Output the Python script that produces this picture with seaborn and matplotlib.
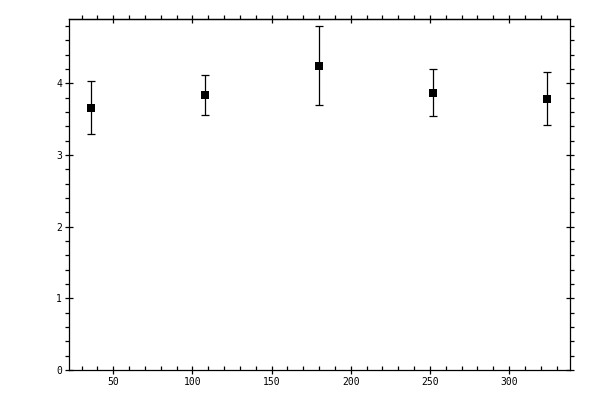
import numpy as np
import pandas as pd
import matplotlib
matplotlib.use("Agg")
import matplotlib.pyplot as plt
import seaborn as sns
from matplotlib.ticker import MultipleLocator

# values
x_pos = [36, 108, 180, 252, 324]
y_mean = [3.66, 3.845, 4.25, 3.87, 3.79]
y_err = [0.37, 0.28, 0.555, 0.33, 0.365]

df = pd.DataFrame({"x": x_pos, "y": y_mean, "err": y_err})

sns.set_style("white")
plt.rcParams['font.family'] = ['DejaVu Sans Mono']

fig = plt.figure(figsize=(6, 4), dpi=100)
ax = fig.add_axes([0.115, 0.075, 0.835, 0.8775])

# error bars then square markers
ax.errorbar(df["x"], df["y"], yerr=df["err"], fmt="none", ecolor="black",
            elinewidth=0.9, capsize=3, capthick=0.9, zorder=2)
sns.scatterplot(data=df, x="x", y="y", marker="s", s=40, color="black",
                edgecolor="black", linewidth=0, ax=ax, zorder=3)

ax.set_xlim(22, 338.5)
ax.set_ylim(0, 4.9)
ax.set_xlabel("")
ax.set_ylabel("")

for sp in ax.spines.values():
    sp.set_linewidth(0.9)
    sp.set_color("black")

ax.xaxis.set_major_locator(MultipleLocator(50))
ax.xaxis.set_minor_locator(MultipleLocator(10))
ax.yaxis.set_major_locator(MultipleLocator(1))
ax.yaxis.set_minor_locator(MultipleLocator(0.2))

# bottom axis: major ticks cross, minor ticks point in
ax.tick_params(axis="x", which="major", direction="inout", length=6, width=0.9,
               labelsize=7, pad=2, top=False, bottom=True,
               color="black", labelcolor="black")
ax.tick_params(axis="x", which="minor", direction="in", length=3, width=0.9,
               top=False, bottom=True, color="black")
# left and right: minor ticks point out
ax.tick_params(axis="y", which="major", direction="inout", length=6, width=0.9,
               labelsize=7, pad=2, left=True, right=True,
               color="black", labelcolor="black")
ax.tick_params(axis="y", which="minor", direction="out", length=3, width=0.9,
               left=True, right=True, color="black")

# top axis ticks point out
top = ax.secondary_xaxis("top")
top.xaxis.set_major_locator(MultipleLocator(50))
top.xaxis.set_minor_locator(MultipleLocator(10))
top.tick_params(axis="x", which="major", direction="inout", length=6, width=0.9,
                labeltop=False, color="black")
top.tick_params(axis="x", which="minor", direction="out", length=3, width=0.9,
                color="black")
top.spines["top"].set_linewidth(0.9)
top.spines["top"].set_color("black")

fig.savefig("out.png", dpi=100)
